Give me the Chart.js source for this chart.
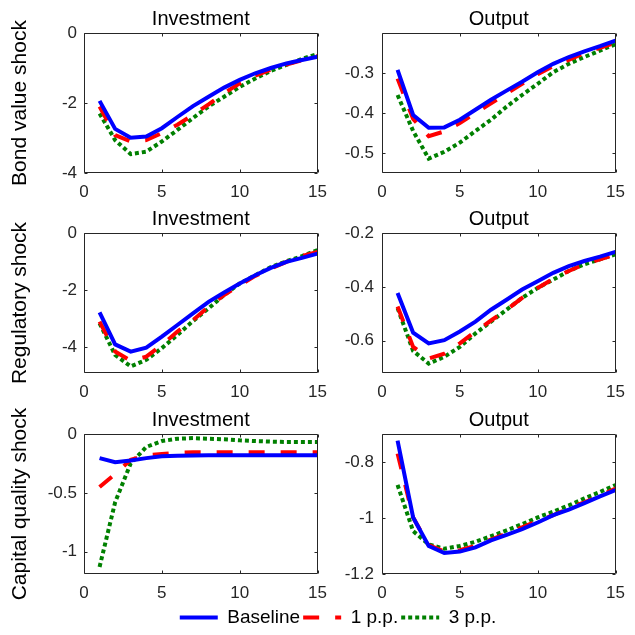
<!DOCTYPE html>
<html>
<head>
<meta charset="utf-8">
<title>Impulse responses</title>
<script src="https://cdn.jsdelivr.net/npm/chart.js@4.4.1/dist/chart.umd.min.js"></script>
<style>
  body { margin: 0; background: #fff; width: 635px; height: 635px; position: relative; overflow: hidden; }
  canvas { position: absolute; }
</style>
</head>
<body>
<canvas id="bond-inv" width="336" height="200" style="left:0;top:3px"></canvas>
<canvas id="bond-out" width="304" height="200" style="left:330px;top:3px"></canvas>
<canvas id="reg-inv" width="336" height="200" style="left:0;top:203px"></canvas>
<canvas id="reg-out" width="304" height="200" style="left:330px;top:203px"></canvas>
<canvas id="cap-inv" width="336" height="200" style="left:0;top:404px"></canvas>
<canvas id="cap-out" width="304" height="200" style="left:330px;top:404px"></canvas>
<canvas id="legend" width="635" height="60" style="left:0;top:605px"></canvas>
<script>
// horizon (quarters)
const steps = [1, 2, 3, 4, 5, 6, 7, 8, 9, 10, 11, 12, 13, 14, 15];
const seriesNames = ['Baseline', '1 p.p.', '3 p.p.'];
const xTicks = [0, 5, 10, 15];

// bond value shock
const bondInvBase = [-1.94, -2.74, -2.99, -2.96, -2.72, -2.40, -2.09, -1.82, -1.56, -1.34, -1.15, -1.00, -0.87, -0.77, -0.68];
const bondInv1pp = [-2.10, -2.92, -3.10, -3.06, -2.86, -2.62, -2.34, -2.04, -1.72, -1.44, -1.22, -1.05, -0.90, -0.78, -0.66];
const bondInv3pp = [-2.30, -3.06, -3.46, -3.39, -3.10, -2.77, -2.43, -2.10, -1.82, -1.54, -1.30, -1.08, -0.91, -0.74, -0.60];
const bondOutBase = [-0.292, -0.405, -0.437, -0.436, -0.417, -0.392, -0.367, -0.344, -0.322, -0.298, -0.277, -0.260, -0.246, -0.233, -0.219];
const bondOut1pp = [-0.314, -0.415, -0.458, -0.446, -0.425, -0.400, -0.376, -0.351, -0.327, -0.303, -0.283, -0.267, -0.250, -0.237, -0.224];
const bondOut3pp = [-0.355, -0.445, -0.514, -0.497, -0.474, -0.445, -0.417, -0.384, -0.355, -0.327, -0.298, -0.277, -0.260, -0.244, -0.228];

// regulatory shock
const regInvBase = [-2.78, -3.90, -4.15, -4.01, -3.63, -3.22, -2.81, -2.41, -2.08, -1.77, -1.48, -1.22, -1.01, -0.87, -0.72];
const regInv1pp = [-3.10, -4.15, -4.47, -4.33, -3.92, -3.45, -3.05, -2.58, -2.17, -1.83, -1.50, -1.24, -1.01, -0.81, -0.66];
const regInv3pp = [-3.16, -4.27, -4.67, -4.44, -4.03, -3.57, -3.08, -2.64, -2.17, -1.77, -1.48, -1.19, -0.99, -0.81, -0.60];
const regOutBase = [-0.423, -0.570, -0.610, -0.598, -0.566, -0.529, -0.485, -0.448, -0.410, -0.379, -0.348, -0.323, -0.304, -0.288, -0.270];
const regOut1pp = [-0.473, -0.623, -0.666, -0.648, -0.610, -0.566, -0.525, -0.485, -0.441, -0.404, -0.370, -0.341, -0.316, -0.298, -0.279];
const regOut3pp = [-0.479, -0.638, -0.685, -0.660, -0.623, -0.573, -0.529, -0.485, -0.441, -0.404, -0.373, -0.341, -0.316, -0.298, -0.279];

// capital quality shock
const capInvBase = [-0.205, -0.240, -0.225, -0.205, -0.190, -0.185, -0.182, -0.180, -0.180, -0.180, -0.180, -0.180, -0.180, -0.180, -0.180];
const capInv1pp = [-0.450, -0.340, -0.220, -0.180, -0.170, -0.160, -0.155, -0.155, -0.155, -0.155, -0.155, -0.155, -0.155, -0.155, -0.155];
const capInv3pp = [-1.130, -0.580, -0.250, -0.110, -0.060, -0.040, -0.035, -0.040, -0.045, -0.054, -0.060, -0.065, -0.068, -0.068, -0.068];
const capOutBase = [-0.724, -0.998, -1.100, -1.125, -1.120, -1.105, -1.080, -1.060, -1.040, -1.016, -0.990, -0.970, -0.947, -0.923, -0.900];
const capOut1pp = [-0.770, -0.998, -1.097, -1.120, -1.115, -1.100, -1.077, -1.055, -1.033, -1.010, -0.990, -0.965, -0.944, -0.920, -0.895];
const capOut3pp = [-0.882, -1.047, -1.094, -1.110, -1.100, -1.085, -1.065, -1.044, -1.022, -0.998, -0.977, -0.955, -0.930, -0.907, -0.882];

const FONT = "'Liberation Sans', Arial, Helvetica, sans-serif";
const AXIS_COLOR = '#262626';
const lineStyles = [
    { color: '#0000ff', dash: [], width: 4 },
    { color: '#ff0000', dash: [16, 16], width: 4 },
    { color: '#008000', dash: [4, 3], width: 4 }
];

Chart.defaults.font.family = FONT;
Chart.defaults.animation = false;

// box around the plot with short inward ticks on all four sides
const framePlugin = {
    id: 'frame',
    afterDatasetsDraw(chart) {
        const { ctx, chartArea: a, scales } = chart;
        const L = Math.round(a.left) + 0.5;
        const R = Math.round(a.right) - 0.5;
        const T = Math.round(a.top) + 0.5;
        const B = Math.round(a.bottom) - 0.5;
        ctx.save();
        ctx.strokeStyle = AXIS_COLOR;
        ctx.lineWidth = 1;
        ctx.setLineDash([]);
        ctx.beginPath();
        ctx.rect(L, T, R - L, B - T);
        for (const t of scales.x.ticks) {
            const p = Math.round(scales.x.getPixelForValue(t.value)) + 0.5;
            ctx.moveTo(p, B); ctx.lineTo(p, B - 3);
            ctx.moveTo(p, T); ctx.lineTo(p, T + 3);
        }
        for (const t of scales.y.ticks) {
            const p = Math.round(scales.y.getPixelForValue(t.value)) + 0.5;
            ctx.moveTo(L, p); ctx.lineTo(L + 3, p);
            ctx.moveTo(R, p); ctx.lineTo(R - 3, p);
        }
        ctx.stroke();
        ctx.restore();
    }
};

function makeDataset(i, data) {
    const s = lineStyles[i];
    return {
        label: seriesNames[i],
        data: data,
        borderColor: s.color,
        backgroundColor: s.color,
        borderWidth: s.width,
        borderDash: s.dash,
        borderCapStyle: 'butt',
        pointRadius: 0,
        tension: 0,
        fill: false
    };
}

function makePanel(id, title, rowLabel, series, yMin, yMax, yTicks) {
    const leftCol = !!rowLabel;
    return new Chart(document.getElementById(id), {
        type: 'line',
        data: {
            labels: steps,
            datasets: series.map((d, i) => makeDataset(i, d))
        },
        options: {
            responsive: false,
            events: [],
            layout: { padding: { right: 12 } },
            plugins: {
                legend: { display: false },
                tooltip: { enabled: false },
                title: {
                    display: true,
                    text: title,
                    fullSize: false,
                    color: '#000',
                    font: { size: 20, weight: 'normal', lineHeight: '24px' },
                    padding: { top: 4, bottom: 2 }
                }
            },
            scales: {
                x: {
                    type: 'linear',
                    min: 0,
                    max: 15,
                    afterBuildTicks: s => { s.ticks = xTicks.map(v => ({ value: v })); },
                    ticks: { color: AXIS_COLOR, font: { size: 17 }, padding: 9, maxRotation: 0 },
                    grid: { display: false, drawTicks: false },
                    border: { display: false },
                    afterFit: s => { s.height = 30; }
                },
                y: {
                    min: yMin,
                    max: yMax,
                    afterBuildTicks: s => { s.ticks = yTicks.map(v => ({ value: v })); },
                    ticks: { color: AXIS_COLOR, font: { size: 17 }, padding: leftCol ? 7 : 8, callback: v => String(v) },
                    grid: { display: false, drawTicks: false },
                    border: { display: false },
                    title: {
                        display: leftCol,
                        text: rowLabel || '',
                        color: '#000',
                        font: { size: 21 },
                        padding: { top: 8, bottom: 0 }
                    },
                    afterFit: s => { s.width = leftCol ? 84 : 52; }
                }
            }
        },
        plugins: [framePlugin]
    });
}

makePanel('bond-inv', 'Investment', 'Bond value shock', [bondInvBase, bondInv1pp, bondInv3pp], -4, 0, [-4, -2, 0]);
makePanel('bond-out', 'Output', null, [bondOutBase, bondOut1pp, bondOut3pp], -0.55, -0.2, [-0.5, -0.4, -0.3]);
makePanel('reg-inv', 'Investment', 'Regulatory shock', [regInvBase, regInv1pp, regInv3pp], -4.9, 0, [-4, -2, 0]);
makePanel('reg-out', 'Output', null, [regOutBase, regOut1pp, regOut3pp], -0.72, -0.2, [-0.6, -0.4, -0.2]);
makePanel('cap-inv', 'Investment', 'Capital quality shock', [capInvBase, capInv1pp, capInv3pp], -1.19, 0, [-1, -0.5, 0]);
makePanel('cap-out', 'Output', null, [capOutBase, capOut1pp, capOut3pp], -1.2, -0.7, [-1.2, -1, -0.8]);

// shared legend along the bottom
new Chart(document.getElementById('legend'), {
    type: 'line',
    data: { datasets: seriesNames.map((n, i) => makeDataset(i, [])) },
    options: {
        responsive: false,
        events: [],
        layout: { padding: { left: 41 } },
        scales: { x: { display: false }, y: { display: false } },
        plugins: {
            tooltip: { enabled: false },
            legend: {
                position: 'top',
                maxHeight: 30,
                labels: {
                    usePointStyle: true,
                    pointStyle: 'line',
                    pointStyleWidth: 38,
                    padding: 3,
                    color: '#000',
                    font: { size: 19 },
                    generateLabels: chart => chart.data.datasets.map((ds, i) => ({
                        text: ds.label,
                        strokeStyle: ds.borderColor,
                        fillStyle: ds.borderColor,
                        lineWidth: ds.borderWidth,
                        lineDash: ds.borderDash,
                        lineCap: 'butt',
                        pointStyle: 'line',
                        fontColor: '#000',
                        hidden: false,
                        datasetIndex: i
                    }))
                }
            }
        }
    }
});
</script>
</body>
</html>
